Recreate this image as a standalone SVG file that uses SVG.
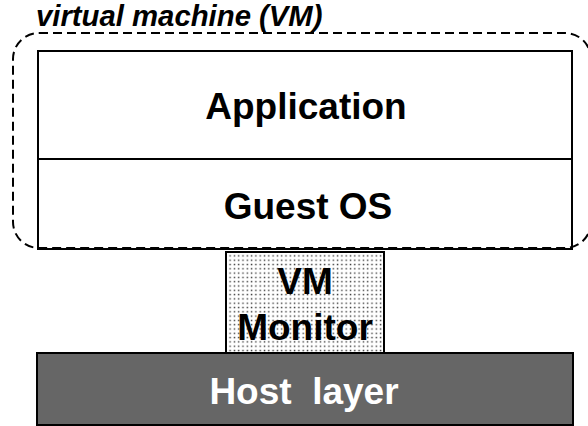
<svg xmlns="http://www.w3.org/2000/svg" width="588" height="426" viewBox="0 0 588 426">
  <style>
    .box { fill: #ffffff; stroke: #000000; stroke-width: 2; }
    .lbl { font-family: "Liberation Sans", Arial, sans-serif; font-weight: bold; font-size: 37px; text-anchor: middle; fill: #000000; }
    .title { font-family: "Liberation Sans", Arial, sans-serif; font-weight: bold; font-style: italic; font-size: 29.3px; fill: #000000; }
    .vm { fill: none; stroke: #000000; stroke-width: 2; stroke-dasharray: 9 5; }
  </style>
  <defs>
    <pattern id="dots" x="0" y="0" width="4.3" height="4.3" patternUnits="userSpaceOnUse">
      <rect width="4.3" height="4.3" fill="#ffffff"/>
      <rect x="1.5" y="1.5" width="1.4" height="1.4" fill="#333333"/>
    </pattern>
  </defs>

  <!-- guest stack -->
  <g id="application">
    <rect class="box" x="38" y="51" width="534" height="108"/>
    <text class="lbl" x="306" y="119">Application</text>
  </g>
  <g id="guest-os">
    <rect class="box" x="38" y="159" width="534" height="90"/>
    <text class="lbl" x="308" y="219">Guest OS</text>
  </g>

  <!-- virtual machine boundary -->
  <g id="virtual-machine">
    <rect class="vm" x="13" y="33" width="578" height="215" rx="26" ry="26"/>
    <text class="title" x="36" y="26">virtual machine (VM)</text>
  </g>

  <!-- monitor -->
  <g id="vm-monitor">
    <rect x="226" y="252" width="158" height="101" fill="url(#dots)" stroke="#000000" stroke-width="2"/>
    <text class="lbl" x="305" y="294">VM</text>
    <text class="lbl" x="305" y="340">Monitor</text>
  </g>

  <!-- host -->
  <g id="host-layer">
    <rect x="37" y="353" width="536" height="72" fill="#666666" stroke="#000000" stroke-width="2"/>
    <text class="lbl" x="304" y="404" style="fill:#ffffff" xml:space="preserve">Host  layer</text>
  </g>

  <g id="connectors"/>
</svg>
